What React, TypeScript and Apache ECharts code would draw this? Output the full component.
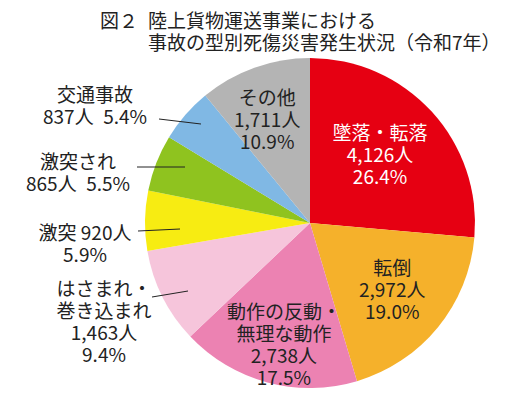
import React, { useEffect, useRef } from "react";
import * as echarts from "echarts";

const figureNo = "図２";
const titleLines = ["陸上貨物運送事業における", "事故の型別死傷災害発生状況（令和7年）"];

const categories = [
  "墜落・転落",
  "転倒",
  "動作の反動・無理な動作",
  "はさまれ・巻き込まれ",
  "激突",
  "激突され",
  "交通事故",
  "その他",
];
const values = [4126, 2972, 2738, 1463, 920, 865, 837, 1711];
const nameLines = [
  ["墜落・転落"],
  ["転倒"],
  ["動作の反動・", "無理な動作"],
  ["はさまれ・", "巻き込まれ"],
  ["激突"],
  ["激突され"],
  ["交通事故"],
  ["その他"],
];
// label arrangement: stack = name / value / percent ; inline = "name value" / percent ; pair = name / "value  percent"
const labelKinds = ["stack", "stack", "stack", "stack", "inline", "pair", "pair", "stack"];
const colors = ["#E60012", "#F5B12B", "#EC82B2", "#F6C5DB", "#F7EC12", "#8FC31F", "#80B8E4", "#B4B4B4"];
const textColors = ["#ffffff", "#222", "#222", "#222", "#222", "#222", "#222", "#222"];
const outsideIdx = [3, 4, 5, 6];

// layout (not data)
const CX = 310;
const CY = 223;
const R = 165;
const FONT = "'Noto Sans CJK JP', 'Noto Sans', sans-serif";
const insideOffsets: Record<number, [number, number]> = {
  0: [7, -12],
  1: [16, 11],
  2: [-4, 38],
  7: [-14, -24],
};
// label anchor and leader line (annotation layout)
const outsideBoxes: Record<number, { x: number; y: number; line: [number, number, number, number] }> = {
  3: { x: 104, y: 320, line: [152, 297, 188, 291] },
  4: { x: 85, y: 242, line: [138, 231, 180, 229] },
  5: { x: 78, y: 171, line: [137, 167, 185, 167] },
  6: { x: 95, y: 104, line: [159, 119, 201, 124] },
};

const fmt = (n: number) => n.toLocaleString("en-US");

export default function App() {
  const ref = useRef<HTMLDivElement>(null);
  useEffect(() => {
    document.body.style.margin = "0";
    if (!ref.current) return;
    const chart = echarts.init(ref.current, null, { renderer: "svg" });
    const total = values.reduce((a, b) => a + b, 0);

    const data = values.map((v, i) => {
      const isOut = outsideIdx.includes(i);
      return {
        name: categories[i],
        value: v,
        itemStyle: { color: colors[i] },
        label: {
          position: isOut ? "outside" : "inside",
          color: textColors[i],
        },
        labelLine: { show: false },
      };
    });

    const leaders = outsideIdx.map((i) => {
      const [x1, y1, x2, y2] = outsideBoxes[i].line;
      return {
        type: "line",
        z: 100,
        silent: true,
        shape: { x1, y1, x2, y2 },
        style: { stroke: "#222", lineWidth: 1 },
      };
    });

    chart.setOption({
      animation: false,
      title: [
        {
          text: figureNo,
          left: 95,
          top: 3,
          textStyle: { fontSize: 19, fontWeight: "normal", color: "#222", fontFamily: FONT, lineHeight: 22 },
        },
        {
          text: titleLines.join("\n"),
          left: 143,
          top: 3,
          textStyle: { fontSize: 19, fontWeight: "normal", color: "#222", fontFamily: FONT, lineHeight: 22 },
        },
      ],
      graphic: leaders,
      series: [
        {
          type: "pie",
          center: [CX, CY],
          radius: [0, R],
          startAngle: 90,
          clockwise: true,
          avoidLabelOverlap: false,
          data,
          label: {
            show: true,
            fontSize: 19,
            lineHeight: 22,
            fontFamily: FONT,
            color: "#222",
            align: "center",
            formatter: (p: any) => {
              const i = p.dataIndex;
              const pct = ((p.value / total) * 100).toFixed(1) + "%";
              const val = fmt(p.value) + "人";
              const nm = nameLines[i];
              if (labelKinds[i] === "inline") return nm.join("") + " " + val + "\n" + pct;
              if (labelKinds[i] === "pair") return nm.join("\n") + "\n" + val + "\u2002" + pct;
              return [...nm, val, pct].join("\n");
            },
          },
          labelLayout: (params: any) => {
            const i = params.dataIndex;
            if (insideOffsets[i]) {
              return { dx: insideOffsets[i][0], dy: insideOffsets[i][1] };
            }
            const box = outsideBoxes[i];
            if (!box) return {};
            return {
              x: box.x,
              y: box.y,
              align: "center",
              verticalAlign: "middle",
            };
          },
        },
      ],
    });
    return () => chart.dispose();
  }, []);
  return <div ref={ref} style={{ width: 508, height: 400 }} />;
}
